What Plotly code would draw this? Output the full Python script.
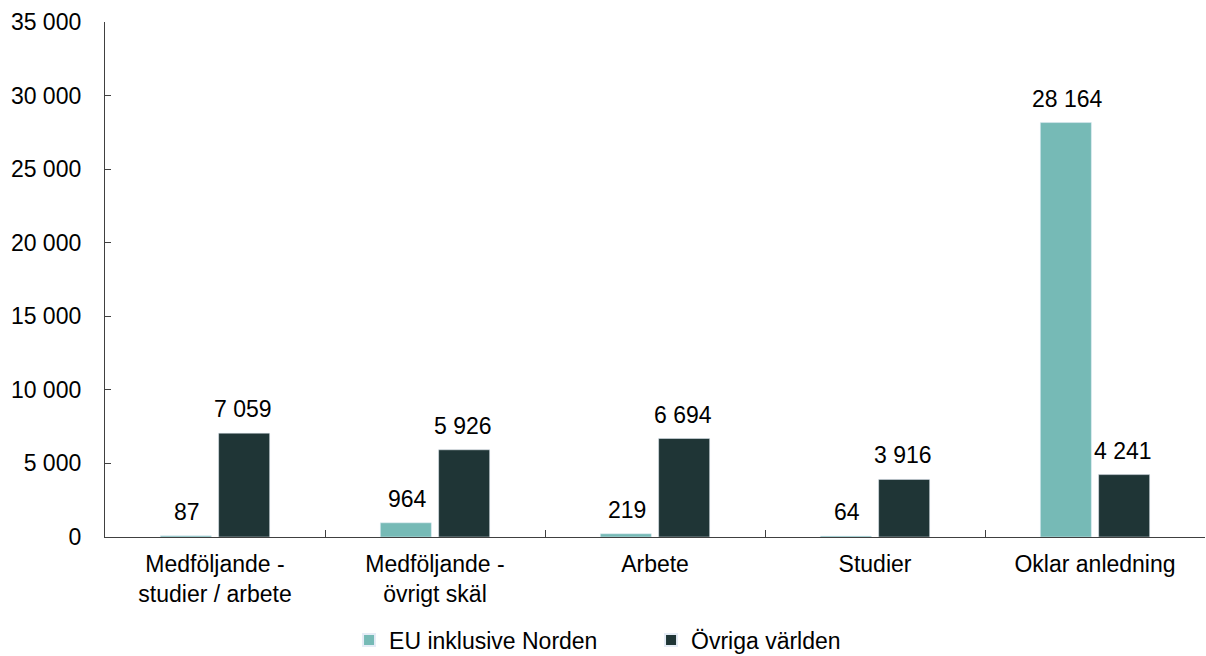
import plotly.graph_objects as go

categories = ["Medföljande -<br>studier / arbete", "Medföljande -<br>övrigt skäl", "Arbete", "Studier", "Oklar anledning"]
eu_values = [87, 964, 219, 64, 28164]
world_values = [7059, 5926, 6694, 3916, 4241]
series_names = ["EU inklusive Norden", "Övriga världen"]
y_ticks = [0, 5000, 10000, 15000, 20000, 25000, 30000, 35000]

FS = 23
font = dict(family="Liberation Sans, Arial, sans-serif", size=FS, color="#000000")
colors = ["#76BAB6", "#1F3536"]

fig = go.Figure()
for name, vals, col in zip(series_names, [eu_values, world_values], colors):
    fig.add_trace(go.Bar(x=categories, y=vals, name=name, marker_color=col))

# value labels above bars (offset to each bar's slot in the group)
slot_px = 56
for i, vals in enumerate([eu_values, world_values]):
    xs = -slot_px / 2 if i == 0 else slot_px / 2
    for c, v in zip(categories, vals):
        fig.add_annotation(x=c, y=v, xref="x", yref="y", text=f"{v:,}".replace(",", " "),
                           showarrow=False, yanchor="bottom", xanchor="center",
                           xshift=xs, yshift=9, font=font)

fig.update_layout(
    width=1206, height=656,
    margin=dict(l=105, r=1, t=22, b=119, autoexpand=False),
    plot_bgcolor="white", paper_bgcolor="white",
    font=font,
    separators=", ",
    barmode="group", bargap=0.47, bargroupgap=0.125,
    legend=dict(orientation="h", x=0.4964, xanchor="center", y=-0.2, yanchor="middle",
                font=font, entrywidth=257, itemsizing="constant"),
    showlegend=True,
)
fig.update_yaxes(range=[0, 35000], tickvals=y_ticks, tickformat=",", showgrid=False,
                 showline=True, linecolor="#404040", linewidth=1.3,
                 ticks="inside", ticklen=6, tickcolor="#404040", zeroline=False,
                 ticklabelstandoff=18, automargin=False)
fig.update_xaxes(showgrid=False, showline=True, linecolor="#404040", linewidth=1.3,
                 ticks="inside", tickson="boundaries", ticklen=7, tickcolor="#404040",
                 ticklabelstandoff=6, automargin=False)

fig.write_html("out.html", config={"displayModeBar": False},
               post_script="document.body.style.margin='0px';")
